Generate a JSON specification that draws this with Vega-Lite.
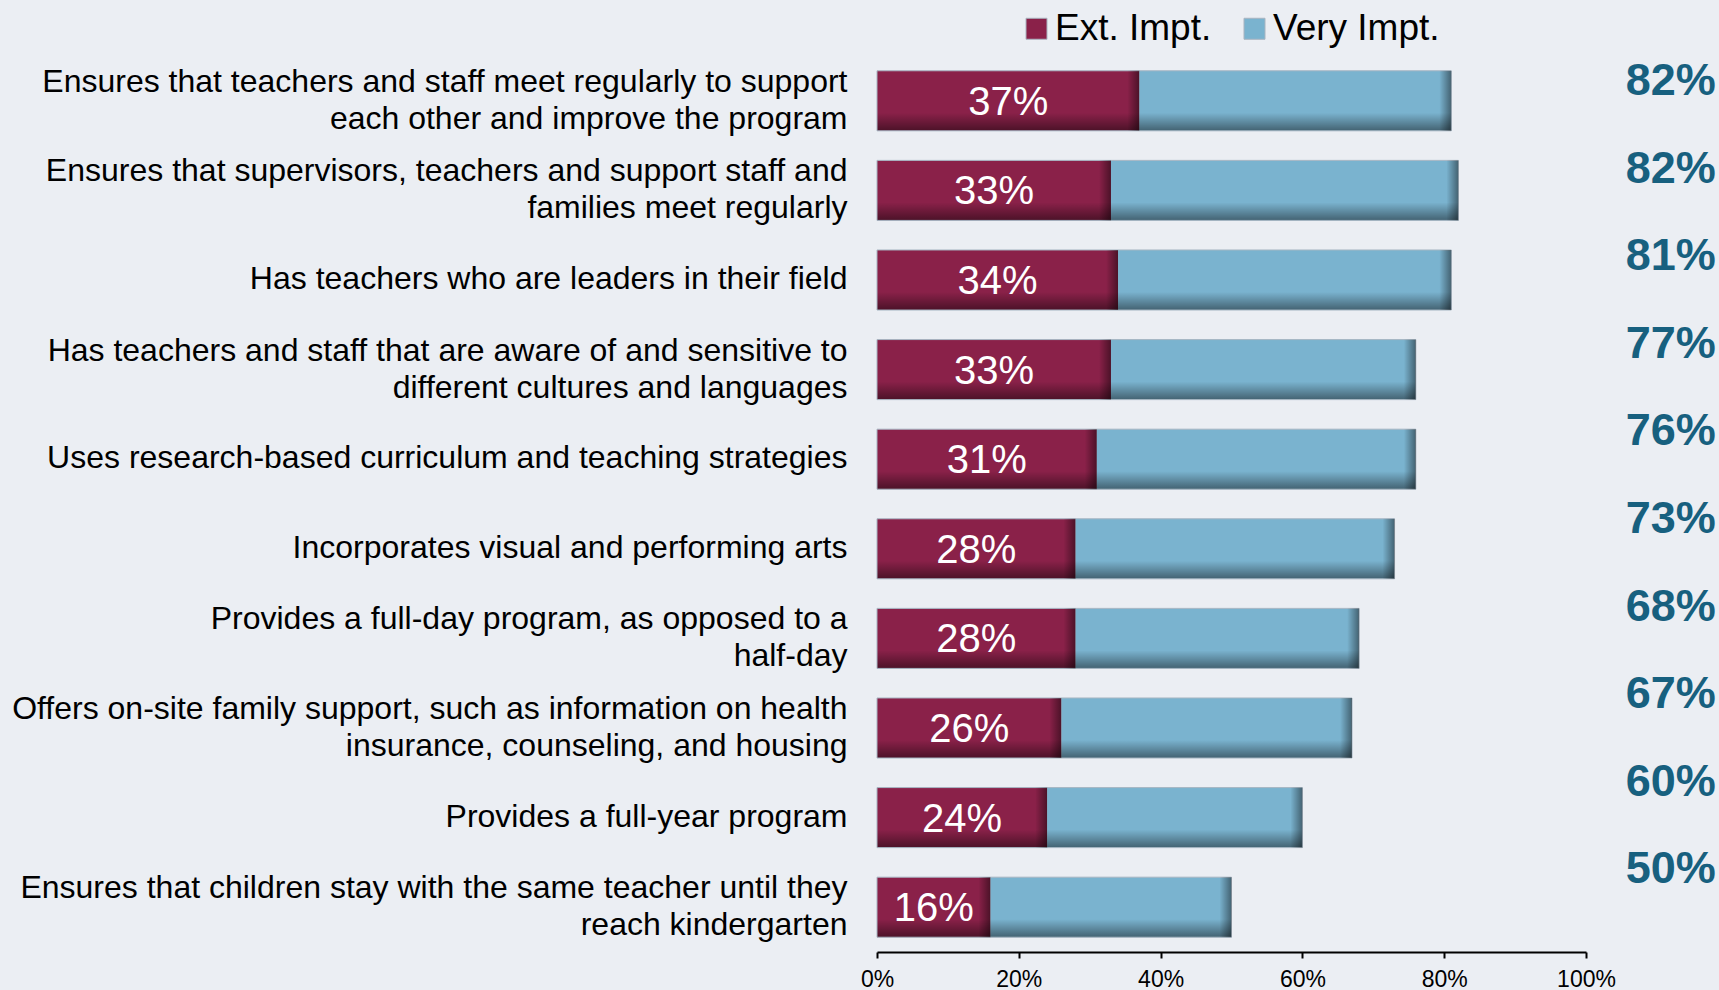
{
  "$schema": "https://vega.github.io/schema/vega-lite/v6.json",
  "width": 709,
  "height": 896,
  "autosize": {"type": "none"},
  "padding": {"left": 877, "top": 56, "right": 133, "bottom": 38},
  "background": "#ebeef3",
  "config": {"view": {"stroke": null}, "font": "Liberation Sans"},
  "data": {
    "values": [
      {"item": "Ensures that teachers and staff meet regularly to support|each other and improve the program", "ext": 0.37, "end": 0.81, "total": 0.82},
      {"item": "Ensures that supervisors, teachers and support staff and|families meet regularly", "ext": 0.33, "end": 0.82, "total": 0.82},
      {"item": "Has teachers who are leaders in their field", "ext": 0.34, "end": 0.81, "total": 0.81},
      {"item": "Has teachers and staff that are aware of and sensitive to|different cultures and languages", "ext": 0.33, "end": 0.76, "total": 0.77},
      {"item": "Uses research-based curriculum and teaching strategies", "ext": 0.31, "end": 0.76, "total": 0.76},
      {"item": "Incorporates visual and performing arts", "ext": 0.28, "end": 0.73, "total": 0.73},
      {"item": "Provides a full-day program, as opposed to a|half-day", "ext": 0.28, "end": 0.68, "total": 0.68},
      {"item": "Offers on-site family support, such as information on health|insurance, counseling, and housing", "ext": 0.26, "end": 0.67, "total": 0.67},
      {"item": "Provides a full-year program", "ext": 0.24, "end": 0.60, "total": 0.60},
      {"item": "Ensures that children stay with the same teacher until they|reach kindergarten", "ext": 0.16, "end": 0.50, "total": 0.50}
    ]
  },
  "resolve": {"scale": {"x": "independent", "y": "independent"}},
  "layer": [
    {
      "mark": {"type": "bar"},
      "encoding": {
        "y": {
          "field": "item", "type": "nominal", "sort": null,
          "scale": {"paddingInner": 0.33, "paddingOuter": 0.165},
          "axis": {
            "title": null, "domain": false, "ticks": false,
            "labelFont": "Liberation Sans", "labelFontSize": 32, "labelColor": "#000000",
            "labelLineHeight": 37, "labelPadding": 30, "labelLimit": 1000,
            "labelAlign": "right", "labelBaseline": "middle",
            "labelOffset": {"condition": {"test": "indexof(datum.value, '|') >= 0", "value": -19}, "value": -1},
            "labelExpr": "split(datum.label, '|')"
          }
        },
        "x": {
          "field": "ext", "type": "quantitative",
          "scale": {"domain": [0, 1], "nice": false},
          "axis": {
            "title": null, "grid": false, "values": [0, 0.2, 0.4, 0.6, 0.8, 1],
            "format": ".0%", "domainColor": "#000000", "domainWidth": 2,
            "tickColor": "#000000", "tickWidth": 2, "tickSize": 6,
            "labelFont": "Liberation Sans", "labelFontSize": 23, "labelColor": "#000000",
            "labelPadding": 10, "labelFlush": false
          }
        },
        "color": {
          "datum": "Ext. Impt.",
          "scale": {"domain": ["Ext. Impt.", "Very Impt."], "range": ["#8a2149", "#7ab3cf"]},
          "legend": {
            "title": null, "orient": "none", "direction": "horizontal", "columns": 2,
            "legendX": 141, "legendY": -46, "padding": 0,
            "symbolType": "square", "symbolSize": 441, "symbolStrokeColor": "#a9b4c0", "symbolStrokeWidth": 1,
            "labelFont": "Liberation Sans", "labelFontSize": 37, "labelColor": "#000000",
            "labelOffset": 0, "columnPadding": 24, "labelLimit": 400
          }
        }
      }
    },
    {
      "mark": {"type": "bar"},
      "encoding": {
        "y": {"field": "item", "type": "nominal", "sort": null, "scale": {"paddingInner": 0.33, "paddingOuter": 0.165}, "axis": null},
        "x": {"field": "ext", "type": "quantitative", "scale": {"domain": [0, 1], "nice": false}, "axis": null},
        "x2": {"field": "end"},
        "color": {"datum": "Very Impt."}
      }
    },
    {
      "mark": {
        "type": "bar",
        "stroke": "#a7b6c3",
        "strokeWidth": 1,
        "fill": {
          "gradient": "linear", "x1": 0, "y1": 0, "x2": 0, "y2": 1,
          "stops": [
            {"offset": 0, "color": "rgba(0,0,0,0)"},
            {"offset": 0.7, "color": "rgba(0,0,0,0)"},
            {"offset": 1, "color": "rgba(0,0,0,0.45)"}
          ]
        }
      },
      "encoding": {
        "y": {"field": "item", "type": "nominal", "sort": null, "scale": {"paddingInner": 0.33, "paddingOuter": 0.165}, "axis": null},
        "x": {"field": "end", "type": "quantitative", "scale": {"domain": [0, 1], "nice": false}, "axis": null}
      }
    },
    {
      "mark": {
        "type": "tick", "orient": "vertical", "thickness": 12, "size": 60, "xOffset": -6, "opacity": 1,
        "fill": {
          "gradient": "linear", "x1": 0, "y1": 0, "x2": 1, "y2": 0,
          "stops": [
            {"offset": 0, "color": "rgba(0,0,0,0)"},
            {"offset": 1, "color": "rgba(0,0,0,0.45)"}
          ]
        }
      },
      "encoding": {
        "y": {"field": "item", "type": "nominal", "sort": null, "scale": {"paddingInner": 0.33, "paddingOuter": 0.165}, "axis": null},
        "x": {"field": "ext", "type": "quantitative", "scale": {"domain": [0, 1], "nice": false}, "axis": null}
      }
    },
    {
      "mark": {
        "type": "tick", "orient": "vertical", "thickness": 12, "size": 60, "xOffset": -6, "opacity": 1,
        "fill": {
          "gradient": "linear", "x1": 0, "y1": 0, "x2": 1, "y2": 0,
          "stops": [
            {"offset": 0, "color": "rgba(0,0,0,0)"},
            {"offset": 1, "color": "rgba(0,0,0,0.45)"}
          ]
        }
      },
      "encoding": {
        "y": {"field": "item", "type": "nominal", "sort": null, "scale": {"paddingInner": 0.33, "paddingOuter": 0.165}, "axis": null},
        "x": {"field": "end", "type": "quantitative", "scale": {"domain": [0, 1], "nice": false}, "axis": null}
      }
    },
    {
      "mark": {"type": "text", "color": "#ffffff", "fontSize": 40, "font": "Liberation Sans", "align": "center", "baseline": "middle", "dy": 2},
      "encoding": {
        "y": {"field": "item", "type": "nominal", "sort": null, "scale": {"paddingInner": 0.33, "paddingOuter": 0.165}, "axis": null},
        "x": {"field": "ext", "type": "quantitative", "scale": {"domain": [0, 2], "nice": false}, "axis": null},
        "text": {"field": "ext", "type": "quantitative", "format": ".0%"}
      }
    },
    {
      "mark": {"type": "text", "color": "#17607f", "fontSize": 45, "fontWeight": "bold", "font": "Liberation Sans", "align": "right", "baseline": "middle", "dy": 1},
      "encoding": {
        "y": {"field": "item", "type": "nominal", "sort": null, "scale": {"type": "point", "padding": 0.614, "align": 0.223}, "axis": null},
        "x": {"datum": 1.183, "type": "quantitative", "scale": {"domain": [0, 1], "nice": false}, "axis": null},
        "text": {"field": "total", "type": "quantitative", "format": ".0%"}
      }
    }
  ]
}
